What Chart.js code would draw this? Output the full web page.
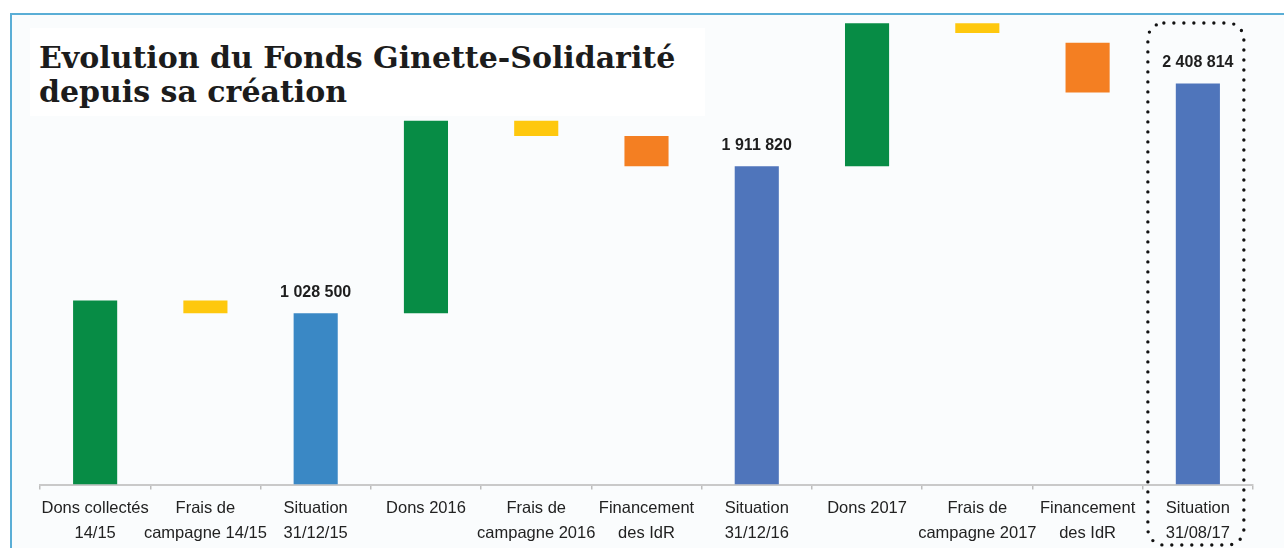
<!DOCTYPE html>
<html>
<head>
<meta charset="utf-8">
<script src="https://cdn.jsdelivr.net/npm/chart.js@4/dist/chart.umd.min.js"></script>
<style>
  html, body { margin: 0; padding: 0; background: #ffffff; }
  #wrap { position: relative; width: 1284px; height: 548px; overflow: hidden; }
  #frame {
    position: absolute; left: 10px; top: 13px; right: 0; bottom: 0;
    background: #fafcfd;
    border-top: 2px solid #5aaed6;
    border-left: 2px solid #5aaed6;
  }
  #chart { position: absolute; left: 0; top: 0; }
  #title {
    position: absolute; left: 30px; top: 28px; width: 675px; height: 88px;
    background: #ffffff;
    font-family: 'DejaVu Serif', serif; font-weight: bold; font-size: 30px;
    line-height: 34px; color: #1c1c1c;
    padding: 13px 0 0 9px; box-sizing: border-box;
  }
</style>
</head>
<body>
<div id="wrap">
  <div id="frame"></div>
  <canvas id="chart" width="1284" height="548"></canvas>
  <div id="title">Evolution du Fonds Ginette-Solidarité<br>depuis sa création</div>
</div>
<script>
// Catégories (étiquettes sur deux lignes)
const categories = [
    ['Dons collectés', '14/15'],
    ['Frais de', 'campagne 14/15'],
    ['Situation', '31/12/15'],
    'Dons 2016',
    ['Frais de', 'campagne 2016'],
    ['Financement', 'des IdR'],
    ['Situation', '31/12/16'],
    'Dons 2017',
    ['Frais de', 'campagne 2017'],
    ['Financement', 'des IdR'],
    ['Situation', '31/08/17']
];

// Bas et haut de chaque barre (cascade)
const barStart = [0, 1028500, 0, 1028500, 2093000, 1911820, 0, 1911820, 2712000, 2354000, 0];
const barEnd = [1105000, 1105000, 1028500, 2185000, 2185000, 2093000, 1911820, 2770000, 2770000, 2654000, 2408814];

// Totaux affichés au-dessus des barres "Situation"
const totalLabels = [null, null, '1 028 500', null, null, null, '1 911 820', null, null, null, '2 408 814'];

const barColors = ['#078c45', '#fec80e', '#3a88c5', '#078c45', '#fec80e', '#f47f22', '#4f75bb', '#078c45', '#fec80e', '#f47f22', '#4f75bb'];

const totalsPlugin = {
    id: 'totals',
    afterDatasetsDraw(chart) {
        const ctx = chart.ctx;
        const meta = chart.getDatasetMeta(0);
        ctx.save();
        ctx.font = 'bold 16px "Liberation Sans", Arial, sans-serif';
        ctx.fillStyle = '#1e1e1e';
        ctx.textAlign = 'center';
        ctx.textBaseline = 'middle';
        meta.data.forEach((bar, i) => {
            if (totalLabels[i]) ctx.fillText(totalLabels[i], bar.x, bar.y - 21);
        });
        ctx.restore();
    }
};

// Cadre pointillé autour de la dernière catégorie
const highlightPlugin = {
    id: 'highlight',
    afterDraw(chart) {
        const ctx = chart.ctx;
        const xs = chart.scales.x;
        const cx = xs.getPixelForValue(categories.length - 1);
        const left = cx - 50, right = cx + 46;
        const top = 23, bottom = chart.height - 3;
        const r = 16;
        ctx.save();
        ctx.strokeStyle = '#111';
        ctx.lineWidth = 3.4;
        ctx.lineCap = 'round';
        ctx.setLineDash([0, 10]);
        ctx.beginPath();
        ctx.moveTo(left + r, top);
        ctx.lineTo(right - r, top);
        ctx.arcTo(right, top, right, top + r, r);
        ctx.lineTo(right, bottom - r);
        ctx.arcTo(right, bottom, right - r, bottom, r);
        ctx.lineTo(left + r, bottom);
        ctx.arcTo(left, bottom, left, bottom - r, r);
        ctx.lineTo(left, top + r);
        ctx.arcTo(left, top, left + r, top, r);
        ctx.stroke();
        ctx.restore();
    }
};

const ctx = document.getElementById('chart').getContext('2d');
const waterfall = new Chart(ctx, {
    type: 'bar',
    data: {
        labels: categories,
        datasets: [{
            data: barStart.map((s, i) => [s, barEnd[i]]),
            backgroundColor: barColors,
            borderWidth: 0,
            barPercentage: 0.4,
            categoryPercentage: 1.0
        }]
    },
    options: {
        responsive: false,
        animation: false,
        layout: { padding: { left: 40, right: 31, top: 20, bottom: -5 } },
        plugins: {
            legend: { display: false },
            tooltip: { enabled: false }
        },
        scales: {
            y: {
                display: false,
                min: 0,
                max: 2790000
            },
            x: {
                grid: {
                    offset: true,
                    drawOnChartArea: false,
                    drawTicks: true,
                    tickLength: 5,
                    color: '#bdbdbd',
                    lineWidth: 1.5
                },
                border: { color: '#c9c9c9', width: 2 },
                ticks: {
                    autoSkip: false,
                    maxRotation: 0,
                    padding: 7,
                    color: '#222',
                    font: { family: "'Liberation Sans', Arial, sans-serif", size: 16.5, lineHeight: 1.5 }
                }
            }
        }
    },
    plugins: [totalsPlugin, highlightPlugin]
});
</script>
</body>
</html>
